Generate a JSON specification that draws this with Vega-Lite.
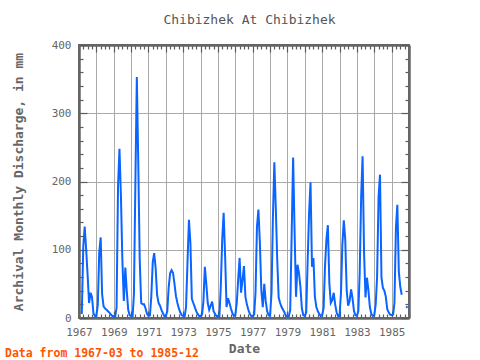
{
  "$schema": "https://vega.github.io/schema/vega-lite/v6.json",
  "width": 330,
  "height": 273,
  "autosize": "none",
  "padding": {"left": 79, "top": 45, "right": 71, "bottom": 42},
  "background": "white",
  "title": {
    "text": "Data from 1967-03 to 1985-12",
    "orient": "bottom",
    "anchor": "start",
    "frame": "group",
    "offset": 0,
    "dx": -74,
    "dy": -7,
    "color": "#ff5500",
    "font": "DejaVu Sans Mono",
    "fontSize": 11.5,
    "fontWeight": "bold"
  },
  "config": {
    "view": {"stroke": "#666666", "strokeWidth": 2},
    "axis": {
      "domainColor": "#666666",
      "domainWidth": 2.5,
      "tickColor": "#5a5a5a",
      "tickWidth": 1.2,
      "gridColor": "#aaaaaa",
      "gridWidth": 1,
      "labelFont": "DejaVu Sans Mono",
      "labelFontSize": 11,
      "labelColor": "#666666",
      "titleFont": "DejaVu Sans Mono",
      "titleFontSize": 13,
      "titleColor": "#666666",
      "titleFontWeight": "bold"
    }
  },
  "data": {
    "values": [
      {"date": "1967-03-01", "q": 6, "seg": 1},
      {"date": "1967-04-01", "q": 105, "seg": 1},
      {"date": "1967-05-01", "q": 134, "seg": 1},
      {"date": "1967-06-01", "q": 100, "seg": 1},
      {"date": "1967-07-01", "q": 63, "seg": 1},
      {"date": "1967-08-01", "q": 22, "seg": 1},
      {"date": "1967-09-01", "q": 37, "seg": 1},
      {"date": "1967-10-01", "q": 31, "seg": 1},
      {"date": "1967-11-01", "q": 7, "seg": 1},
      {"date": "1967-12-01", "q": 3, "seg": 1},
      {"date": "1968-01-01", "q": 3, "seg": 1},
      {"date": "1968-02-01", "q": 20, "seg": 1},
      {"date": "1968-03-01", "q": 95, "seg": 1},
      {"date": "1968-04-01", "q": 118, "seg": 1},
      {"date": "1968-05-01", "q": 35, "seg": 1},
      {"date": "1968-06-01", "q": 17, "seg": 1},
      {"date": "1968-07-01", "q": 14, "seg": 1},
      {"date": "1968-08-01", "q": 12, "seg": 1},
      {"date": "1968-09-01", "q": 10, "seg": 1},
      {"date": "1968-10-01", "q": 8, "seg": 1},
      {"date": "1968-11-01", "q": 5, "seg": 1},
      {"date": "1968-12-01", "q": 3, "seg": 1},
      {"date": "1969-01-01", "q": 3, "seg": 1},
      {"date": "1969-02-01", "q": 2, "seg": 1},
      {"date": "1969-03-01", "q": 15, "seg": 1},
      {"date": "1969-04-01", "q": 193, "seg": 1},
      {"date": "1969-05-01", "q": 248, "seg": 1},
      {"date": "1969-06-01", "q": 178, "seg": 1},
      {"date": "1969-07-01", "q": 85, "seg": 1},
      {"date": "1969-08-01", "q": 25, "seg": 1},
      {"date": "1969-09-01", "q": 74, "seg": 1},
      {"date": "1969-10-01", "q": 40, "seg": 1},
      {"date": "1969-11-01", "q": 12, "seg": 1},
      {"date": "1969-12-01", "q": 4, "seg": 1},
      {"date": "1970-01-01", "q": 3, "seg": 1},
      {"date": "1970-02-01", "q": 3, "seg": 1},
      {"date": "1970-03-01", "q": 34, "seg": 1},
      {"date": "1970-04-01", "q": 199, "seg": 1},
      {"date": "1970-05-01", "q": 353, "seg": 1},
      {"date": "1970-06-01", "q": 225, "seg": 1},
      {"date": "1970-07-01", "q": 85, "seg": 1},
      {"date": "1970-08-01", "q": 22, "seg": 1},
      {"date": "1970-09-01", "q": 20, "seg": 1},
      {"date": "1970-10-01", "q": 20, "seg": 1},
      {"date": "1970-11-01", "q": 14, "seg": 1},
      {"date": "1970-12-01", "q": 6, "seg": 1},
      {"date": "1971-01-01", "q": 3, "seg": 1},
      {"date": "1971-02-01", "q": 4, "seg": 1},
      {"date": "1971-03-01", "q": 31, "seg": 1},
      {"date": "1971-04-01", "q": 82, "seg": 1},
      {"date": "1971-05-01", "q": 95, "seg": 1},
      {"date": "1971-06-01", "q": 73, "seg": 1},
      {"date": "1971-07-01", "q": 34, "seg": 1},
      {"date": "1971-08-01", "q": 22, "seg": 1},
      {"date": "1971-09-01", "q": 18, "seg": 1},
      {"date": "1971-10-01", "q": 12, "seg": 1},
      {"date": "1971-11-01", "q": 7, "seg": 1},
      {"date": "1971-12-01", "q": 3, "seg": 1},
      {"date": "1972-01-01", "q": 3, "seg": 1},
      {"date": "1972-02-01", "q": 10, "seg": 1},
      {"date": "1972-03-01", "q": 45, "seg": 1},
      {"date": "1972-04-01", "q": 66, "seg": 1},
      {"date": "1972-05-01", "q": 70, "seg": 1},
      {"date": "1972-06-01", "q": 66, "seg": 1},
      {"date": "1972-07-01", "q": 50, "seg": 1},
      {"date": "1972-08-01", "q": 32, "seg": 1},
      {"date": "1972-09-01", "q": 22, "seg": 1},
      {"date": "1972-10-01", "q": 14, "seg": 1},
      {"date": "1972-11-01", "q": 8, "seg": 1},
      {"date": "1972-12-01", "q": 4, "seg": 1},
      {"date": "1973-01-01", "q": 3, "seg": 1},
      {"date": "1973-02-01", "q": 3, "seg": 1},
      {"date": "1973-03-01", "q": 16, "seg": 1},
      {"date": "1973-04-01", "q": 82, "seg": 1},
      {"date": "1973-05-01", "q": 144, "seg": 1},
      {"date": "1973-06-01", "q": 110, "seg": 1},
      {"date": "1973-07-01", "q": 28, "seg": 1},
      {"date": "1973-08-01", "q": 22, "seg": 1},
      {"date": "1973-09-01", "q": 16, "seg": 1},
      {"date": "1973-10-01", "q": 10, "seg": 1},
      {"date": "1973-11-01", "q": 6, "seg": 1},
      {"date": "1973-12-01", "q": 3, "seg": 1},
      {"date": "1974-01-01", "q": 3, "seg": 1},
      {"date": "1974-02-01", "q": 5, "seg": 1},
      {"date": "1974-03-01", "q": 24, "seg": 1},
      {"date": "1974-04-01", "q": 75, "seg": 1},
      {"date": "1974-05-01", "q": 50, "seg": 1},
      {"date": "1974-06-01", "q": 22, "seg": 1},
      {"date": "1974-07-01", "q": 12, "seg": 1},
      {"date": "1974-08-01", "q": 18, "seg": 1},
      {"date": "1974-09-01", "q": 24, "seg": 1},
      {"date": "1974-10-01", "q": 10, "seg": 1},
      {"date": "1974-11-01", "q": 6, "seg": 1},
      {"date": "1974-12-01", "q": 3, "seg": 1},
      {"date": "1975-01-01", "q": 3, "seg": 1},
      {"date": "1975-02-01", "q": 3, "seg": 1},
      {"date": "1975-03-01", "q": 44, "seg": 1},
      {"date": "1975-04-01", "q": 115, "seg": 1},
      {"date": "1975-05-01", "q": 154, "seg": 1},
      {"date": "1975-06-01", "q": 90, "seg": 1},
      {"date": "1975-07-01", "q": 16, "seg": 1},
      {"date": "1975-08-01", "q": 29, "seg": 1},
      {"date": "1975-09-01", "q": 22, "seg": 1},
      {"date": "1975-10-01", "q": 14, "seg": 1},
      {"date": "1975-11-01", "q": 7, "seg": 1},
      {"date": "1975-12-01", "q": 3, "seg": 1},
      {"date": "1976-01-01", "q": 4, "seg": 1},
      {"date": "1976-02-01", "q": 22, "seg": 1},
      {"date": "1976-03-01", "q": 56, "seg": 1},
      {"date": "1976-04-01", "q": 88, "seg": 1},
      {"date": "1976-05-01", "q": 37, "seg": 1},
      {"date": "1976-06-01", "q": 56, "seg": 1},
      {"date": "1976-07-01", "q": 76, "seg": 1},
      {"date": "1976-08-01", "q": 31, "seg": 1},
      {"date": "1976-09-01", "q": 20, "seg": 1},
      {"date": "1976-10-01", "q": 12, "seg": 1},
      {"date": "1976-11-01", "q": 6, "seg": 1},
      {"date": "1976-12-01", "q": 3, "seg": 1},
      {"date": "1977-01-01", "q": 3, "seg": 1},
      {"date": "1977-02-01", "q": 5, "seg": 1},
      {"date": "1977-03-01", "q": 37, "seg": 1},
      {"date": "1977-04-01", "q": 134, "seg": 1},
      {"date": "1977-05-01", "q": 159, "seg": 1},
      {"date": "1977-06-01", "q": 110, "seg": 1},
      {"date": "1977-07-01", "q": 41, "seg": 1},
      {"date": "1977-08-01", "q": 16, "seg": 1},
      {"date": "1977-09-01", "q": 50, "seg": 1},
      {"date": "1977-10-01", "q": 25, "seg": 1},
      {"date": "1977-11-01", "q": 10, "seg": 1},
      {"date": "1977-12-01", "q": 4, "seg": 1},
      {"date": "1978-01-01", "q": 3, "seg": 1},
      {"date": "1978-02-01", "q": 37, "seg": 1},
      {"date": "1978-03-01", "q": 144, "seg": 1},
      {"date": "1978-04-01", "q": 228, "seg": 1},
      {"date": "1978-05-01", "q": 163, "seg": 1},
      {"date": "1978-06-01", "q": 85, "seg": 1},
      {"date": "1978-07-01", "q": 30, "seg": 1},
      {"date": "1978-08-01", "q": 22, "seg": 1},
      {"date": "1978-09-01", "q": 16, "seg": 1},
      {"date": "1978-10-01", "q": 12, "seg": 1},
      {"date": "1978-11-01", "q": 8, "seg": 1},
      {"date": "1978-12-01", "q": 3, "seg": 1},
      {"date": "1979-01-01", "q": 3, "seg": 1},
      {"date": "1979-02-01", "q": 3, "seg": 1},
      {"date": "1979-03-01", "q": 12, "seg": 1},
      {"date": "1979-04-01", "q": 125, "seg": 1},
      {"date": "1979-05-01", "q": 235, "seg": 1},
      {"date": "1979-06-01", "q": 126, "seg": 1},
      {"date": "1979-07-01", "q": 31, "seg": 1},
      {"date": "1979-08-01", "q": 78, "seg": 1},
      {"date": "1979-09-01", "q": 66, "seg": 1},
      {"date": "1979-10-01", "q": 46, "seg": 1},
      {"date": "1979-11-01", "q": 14, "seg": 1},
      {"date": "1979-12-01", "q": 4, "seg": 1},
      {"date": "1980-01-01", "q": 3, "seg": 1},
      {"date": "1980-02-01", "q": 8, "seg": 1},
      {"date": "1980-03-01", "q": 82, "seg": 1},
      {"date": "1980-04-01", "q": 154, "seg": 1},
      {"date": "1980-05-01", "q": 199, "seg": 1},
      {"date": "1980-06-01", "q": 75, "seg": 1},
      {"date": "1980-07-01", "q": 88, "seg": 1},
      {"date": "1980-08-01", "q": 31, "seg": 1},
      {"date": "1980-09-01", "q": 16, "seg": 1},
      {"date": "1980-10-01", "q": 10, "seg": 1},
      {"date": "1980-11-01", "q": 6, "seg": 1},
      {"date": "1980-12-01", "q": 3, "seg": 1},
      {"date": "1981-01-01", "q": 4, "seg": 1},
      {"date": "1981-02-01", "q": 15, "seg": 1},
      {"date": "1981-03-01", "q": 75, "seg": 1},
      {"date": "1981-04-01", "q": 116, "seg": 1},
      {"date": "1981-05-01", "q": 136, "seg": 1},
      {"date": "1981-06-01", "q": 51, "seg": 1},
      {"date": "1981-07-01", "q": 22, "seg": 1},
      {"date": "1981-08-01", "q": 26, "seg": 1},
      {"date": "1981-09-01", "q": 37, "seg": 1},
      {"date": "1981-10-01", "q": 20, "seg": 1},
      {"date": "1981-11-01", "q": 8, "seg": 1},
      {"date": "1981-12-01", "q": 3, "seg": 1},
      {"date": "1982-01-01", "q": 3, "seg": 1},
      {"date": "1982-02-01", "q": 37, "seg": 1},
      {"date": "1982-03-01", "q": 107, "seg": 1},
      {"date": "1982-04-01", "q": 143, "seg": 1},
      {"date": "1982-05-01", "q": 115, "seg": 1},
      {"date": "1982-06-01", "q": 40, "seg": 1},
      {"date": "1982-07-01", "q": 18, "seg": 1},
      {"date": "1982-08-01", "q": 25, "seg": 1},
      {"date": "1982-09-01", "q": 42, "seg": 1},
      {"date": "1982-10-01", "q": 29, "seg": 1},
      {"date": "1982-11-01", "q": 10, "seg": 1},
      {"date": "1982-12-01", "q": 4, "seg": 1},
      {"date": "1983-01-01", "q": 3, "seg": 1},
      {"date": "1983-02-01", "q": 10, "seg": 1},
      {"date": "1983-03-01", "q": 66, "seg": 1},
      {"date": "1983-04-01", "q": 178, "seg": 1},
      {"date": "1983-05-01", "q": 237, "seg": 1},
      {"date": "1983-06-01", "q": 95, "seg": 1},
      {"date": "1983-07-01", "q": 30, "seg": 1},
      {"date": "1983-08-01", "q": 59, "seg": 1},
      {"date": "1983-09-01", "q": 40, "seg": 1},
      {"date": "1983-10-01", "q": 16, "seg": 1},
      {"date": "1983-11-01", "q": 6, "seg": 1},
      {"date": "1983-12-01", "q": 3, "seg": 1},
      {"date": "1984-01-01", "q": 4, "seg": 1},
      {"date": "1984-02-01", "q": 20, "seg": 1},
      {"date": "1984-03-01", "q": 60, "seg": 1},
      {"date": "1984-04-01", "q": 178, "seg": 1},
      {"date": "1984-05-01", "q": 210, "seg": 1},
      {"date": "1984-06-01", "q": 59, "seg": 1},
      {"date": "1984-07-01", "q": 44, "seg": 1},
      {"date": "1984-08-01", "q": 40, "seg": 1},
      {"date": "1984-09-01", "q": 31, "seg": 1},
      {"date": "1984-10-01", "q": 13, "seg": 1},
      {"date": "1984-11-01", "q": 8, "seg": 1},
      {"date": "1984-12-01", "q": 5, "seg": 1},
      {"date": "1985-01-01", "q": 4, "seg": 1},
      {"date": "1985-02-01", "q": 5, "seg": 1},
      {"date": "1985-03-01", "q": 22, "seg": 1},
      {"date": "1985-04-01", "q": 132, "seg": 1},
      {"date": "1985-05-01", "q": 166, "seg": 1},
      {"date": "1985-06-01", "q": 68, "seg": 1},
      {"date": "1985-07-01", "q": 46, "seg": 1},
      {"date": "1985-08-01", "q": 34, "seg": 1},
      {"date": "1985-11-01", "q": 17, "seg": 2},
      {"date": "1985-12-01", "q": 15, "seg": 2}
    ]
  },
  "layer": [
    {
      "mark": {"type": "line", "color": "#0a64ff", "strokeWidth": 2, "clip": true},
      "encoding": {
        "x": {
          "field": "date",
          "type": "temporal",
          "scale": {"type": "utc", "domain": [{"year": 1967, "month": 1, "date": 1, "utc": true}, {"year": 1986, "month": 1, "date": 1, "utc": true}]},
          "axis": {
            "orient": "bottom",
            "tickCount": {"interval": "month", "step": 3},
            "labelExpr": "utcmonth(datum.value) == 0 && utcyear(datum.value) % 2 == 1 ? utcFormat(datum.value, '%Y') : ''",
            "labelOverlap": false,
            "labelFlush": false,
            "labelBound": false,
            "tickSize": {"condition": {"test": "utcmonth(datum.value) == 0", "value": -7}, "value": -4},
            "grid": true,
            "gridOpacity": {"condition": {"test": "utcmonth(datum.value) == 0", "value": 1}, "value": 0},
            "labelPadding": 15,
            "title": "Date",
            "titlePadding": 2
          }
        },
        "y": {
          "field": "q",
          "type": "quantitative",
          "scale": {"domain": [0, 400], "nice": false, "zero": true},
          "axis": {
            "orient": "left",
            "values": [0, 20, 40, 60, 80, 100, 120, 140, 160, 180, 200, 220, 240, 260, 280, 300, 320, 340, 360, 380, 400],
            "labelExpr": "datum.value % 100 == 0 ? datum.label : ''",
            "labelOverlap": false,
            "labelFlush": false,
            "tickSize": {"condition": {"test": "datum.value % 100 == 0", "value": -8}, "value": -4},
            "grid": true,
            "gridOpacity": {"condition": {"test": "datum.value % 100 == 0", "value": 1}, "value": 0},
            "labelPadding": 16,
            "title": "Archival Monthly Discharge, in mm",
            "titlePadding": 26
          }
        },
        "detail": {"field": "seg", "type": "nominal"}
      }
    },
    {
      "mark": {"type": "line", "strokeOpacity": 0},
      "encoding": {
        "x": {
          "field": "date",
          "type": "temporal",
          "axis": {
            "orient": "top",
            "tickCount": {"interval": "month", "step": 3},
            "labels": false,
            "grid": false,
            "tickSize": {"condition": {"test": "utcmonth(datum.value) == 0", "value": -7}, "value": -4},
            "title": "Chibizhek At Chibizhek",
            "titleFontWeight": "normal",
            "titleColor": "#555555",
            "titleX": 170,
            "titlePadding": 18
          }
        },
        "y": {
          "field": "q",
          "type": "quantitative",
          "axis": {
            "orient": "right",
            "values": [0, 20, 40, 60, 80, 100, 120, 140, 160, 180, 200, 220, 240, 260, 280, 300, 320, 340, 360, 380, 400],
            "labels": false,
            "grid": false,
            "tickSize": {"condition": {"test": "datum.value % 100 == 0", "value": -8}, "value": -4},
            "title": null
          }
        },
        "detail": {"field": "seg", "type": "nominal"}
      }
    }
  ],
  "resolve": {"axis": {"x": "independent", "y": "independent"}}
}
